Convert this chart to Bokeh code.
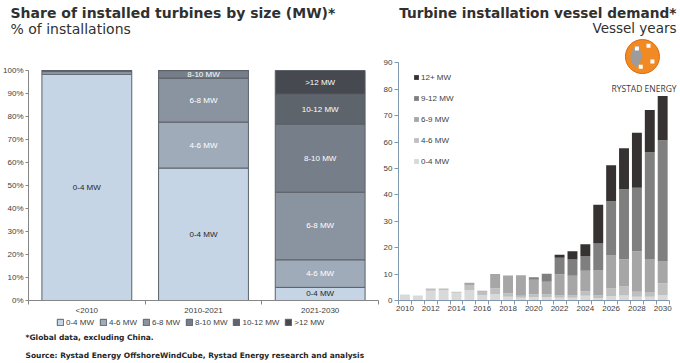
from bokeh.plotting import figure
from bokeh.models import ColumnDataSource, Range1d, FixedTicker, Legend, LegendItem, Label
from bokeh.layouts import column, row
from bokeh.embed import file_html
from bokeh.resources import INLINE
from bokeh.core.properties import value

# ---------------- data: left chart (share of installed turbines, %) ----------------
periods = ["<2010", "2010-2021", "2021-2030"]
share_0_4 = [98.4, 57.6, 5.7]
share_4_6 = [1.1, 20.0, 12.0]
share_6_8 = [0.5, 19.1, 29.4]
share_8_10 = [0.0, 3.3, 29.6]
share_10_12 = [0.0, 0.0, 13.0]
share_12p = [0.0, 0.0, 10.3]
share_names = ["0-4 MW", "4-6 MW", "6-8 MW", "8-10 MW", "10-12 MW", ">12 MW"]
pct_ticks = [0, 10, 20, 30, 40, 50, 60, 70, 80, 90, 100]

# ---------------- data: right chart (vessel years) ----------------
years = list(range(2010, 2031))
vessel_0_4 = [2.3, 1.9, 3.7, 3.9, 2.9, 3.9, 2.1, 2.5, 1.4, 1.0, 1.2, 1.2, 1.0, 1.0, 1.8, 0.9, 1.6, 1.9, 1.4, 1.4, 2.0]
vessel_4_6 = [0.0, 0.0, 0.8, 0.6, 0.4, 2.0, 1.2, 2.1, 1.3, 0.8, 1.2, 1.1, 0.9, 0.9, 1.7, 1.0, 2.9, 3.4, 1.9, 1.8, 4.5]
vessel_6_9 = [0.0, 0.0, 0.0, 0.0, 0.0, 0.8, 0.4, 5.4, 6.8, 7.8, 5.5, 4.8, 8.0, 7.5, 7.8, 9.5, 12.5, 10.3, 15.4, 12.5, 8.3]
vessel_9_12 = [0.0, 0.0, 0.0, 0.0, 0.0, 0.0, 0.0, 0.0, 0.0, 0.0, 0.9, 3.0, 6.3, 6.1, 5.6, 10.2, 20.6, 26.5, 24.0, 40.5, 45.9]
vessel_12p = [0.0, 0.0, 0.0, 0.0, 0.0, 0.0, 0.0, 0.0, 0.0, 0.0, 0.0, 0.0, 1.1, 3.2, 4.4, 14.7, 13.6, 15.6, 20.8, 16.0, 16.8]
vessel_names = ["0-4 MW", "4-6 MW", "6-9 MW", "9-12 MW", "12+ MW"]
vessel_ticks = list(range(0, 100, 10))
year_ticks = list(range(2010, 2031, 2))

FONT = "Liberation Sans"
TFONT = "DejaVu Sans"
TXT = "#404040"
DARK = "#303030"

left_colors = ["#c6d5e5", "#9fabb8", "#8a94a1", "#767e89", "#5e646c", "#46494f"]
left_text_colors = ["#262626", "#ffffff", "#ffffff", "#ffffff", "#ffffff", "#ffffff"]
left_edge = "#5b6068"
right_colors = ["#d9d9d9", "#bfbfbf", "#a6a6a6", "#7f7f7f", "#363232"]

W_LEFT, W_RIGHT = 380, 300
H_HEAD, H_ROW, H_FOOT = 36, 281, 46


def blank(width, height):
    f = figure(width=width, height=height, output_backend="svg", toolbar_location=None,
               x_range=Range1d(0, 1), y_range=Range1d(0, 1),
               x_axis_location=None, y_axis_location=None, min_border=0, title_location=None)
    f.outline_line_color = None
    f.grid.visible = False
    return f


# ================= HEADER (titles) =================
head = blank(W_LEFT + W_RIGHT, H_HEAD)
head.add_layout(Label(x=10, y=H_HEAD - 12, x_units="screen", y_units="screen",
                      text="Share of installed turbines by size (MW)*", text_font=TFONT,
                      text_font_style="bold", text_font_size="14px", text_color=DARK,
                      text_baseline="alphabetic"))
head.add_layout(Label(x=10, y=H_HEAD - 28, x_units="screen", y_units="screen",
                      text="% of installations", text_font=TFONT,
                      text_font_size="14px", text_color=DARK, text_baseline="alphabetic"))
head.add_layout(Label(x=676, y=H_HEAD - 12, x_units="screen", y_units="screen",
                      text="Turbine installation vessel demand*", text_font=TFONT,
                      text_font_style="bold", text_font_size="13.7px", text_color=DARK,
                      text_align="right", text_baseline="alphabetic"))
head.add_layout(Label(x=676, y=H_HEAD - 27, x_units="screen", y_units="screen",
                      text="Vessel years", text_font=TFONT,
                      text_font_size="13.5px", text_color=DARK,
                      text_align="right", text_baseline="alphabetic"))

# ================= LEFT CHART =================
share_arrays = [share_0_4, share_4_6, share_6_8, share_8_10, share_10_12, share_12p]
share_keys = ["s0_4", "s4_6", "s6_8", "s8_10", "s10_12", "s12p"]

xpos = [i + 1 for i in range(len(periods))]
src_l = ColumnDataSource(dict(x=xpos, **{k: a for k, a in zip(share_keys, share_arrays)}))

# frame spans the same height as the right chart (frames are aligned in a row);
# the extra room above 100% is left empty and the axis is bounded at 100%.
left = figure(width=W_LEFT, height=H_ROW, output_backend="svg", toolbar_location=None,
              x_range=Range1d(0.5, len(periods) + 0.5), y_range=Range1d(0, 114.8),
              min_border_left=28, min_border_right=2, min_border_top=0, min_border_bottom=17,
              title_location=None)
left.outline_line_color = None
left.grid.visible = False

rs_l = left.vbar_stack(share_keys, x="x", width=0.77, source=src_l,
                       fill_color=left_colors, line_color=left_edge, line_width=1)

lx, ly, lt, lc = [], [], [], []
for j in range(len(periods)):
    base = 0.0
    for k, arr in enumerate(share_arrays):
        v = arr[j]
        if v >= 3:
            lx.append(xpos[j])
            ly.append(base + v / 2)
            lt.append(share_names[k])
            lc.append(left_text_colors[k])
        base += v
left.text(x=lx, y=ly, text=lt, text_color=lc, text_align="center", text_baseline="middle",
          text_font=value(FONT), text_font_size=value("8px"))

xa = left.xaxis[0]
xa.ticker = FixedTicker(ticks=xpos, minor_ticks=[i + 0.5 for i in range(len(periods) + 1)])
xa.major_label_overrides = {xpos[i]: periods[i] for i in range(len(periods))}
xa.major_tick_line_color = None
xa.major_tick_out = 0
xa.major_tick_in = 0
xa.minor_tick_line_color = "#868686"
xa.minor_tick_out = 4
xa.minor_tick_in = 0
xa.major_label_standoff = 1

ya = left.yaxis[0]
ya.ticker = FixedTicker(ticks=pct_ticks, minor_ticks=[])
ya.bounds = (0, 100)
ya.major_label_overrides = {t: f"{t}%" for t in pct_ticks}
ya.major_tick_line_color = "#868686"
ya.major_tick_out = 3
ya.major_tick_in = 0
ya.minor_tick_line_color = None
ya.major_label_standoff = 2

for ax in left.axis:
    ax.axis_line_color = "#868686"
    ax.major_label_text_font = FONT
    ax.major_label_text_font_size = "8px"
    ax.major_label_text_color = TXT

# ================= RIGHT CHART =================
vessel_arrays = [vessel_0_4, vessel_4_6, vessel_6_9, vessel_9_12, vessel_12p]
vessel_keys = ["v0_4", "v4_6", "v6_9", "v9_12", "v12p"]
src_r = ColumnDataSource(dict(year=years, **{k: a for k, a in zip(vessel_keys, vessel_arrays)}))

right = figure(width=W_RIGHT, height=H_ROW, output_backend="svg", toolbar_location=None,
               x_range=Range1d(years[0] - 0.5, years[-1] + 1.15), y_range=Range1d(0, 100),
               min_border_left=15, min_border_right=3, min_border_top=0, min_border_bottom=17,
               title_location=None)
right.outline_line_color = None
right.grid.visible = False

rs_r = right.vbar_stack(vessel_keys, x="year", width=0.77, source=src_r,
                        fill_color=right_colors, line_color=None)

AX = "#7f98b0"
rxa = right.xaxis[0]
rxa.ticker = FixedTicker(ticks=year_ticks, minor_ticks=[y - 0.5 for y in years] + [years[-1] + 0.5])
rxa.bounds = (years[0] - 0.5, years[-1] + 0.5)
rxa.major_tick_line_color = None
rxa.major_tick_out = 0
rxa.major_tick_in = 0
rxa.minor_tick_line_color = AX
rxa.minor_tick_out = 4
rxa.minor_tick_in = 0
rxa.major_label_standoff = 1

rya = right.yaxis[0]
rya.ticker = FixedTicker(ticks=vessel_ticks, minor_ticks=[])
rya.bounds = (0, 90)
rya.major_tick_line_color = AX
rya.major_tick_out = 4
rya.major_tick_in = 0
rya.minor_tick_line_color = None
rya.major_label_standoff = 2

for ax in right.axis:
    ax.axis_line_color = AX
    ax.major_label_text_font = FONT
    ax.major_label_text_font_size = "8px"
    ax.major_label_text_color = TXT

leg_r = Legend(items=[LegendItem(label=n, renderers=[r]) for n, r in
                      reversed(list(zip(vessel_names, rs_r)))],
               orientation="vertical", location=(15, 129),
               glyph_width=6, glyph_height=6, label_height=20, spacing=1, label_standoff=2,
               padding=0, margin=0, border_line_color=None, background_fill_alpha=0,
               label_text_font=FONT, label_text_font_size="8px", label_text_color=TXT)
right.add_layout(leg_r)

# logo (decoration)
logo_x = [2028.43]
logo_y = [92.4]
right.scatter(x=logo_x, y=logo_y, size=34, marker="circle", fill_color="#f28a24",
              line_color="#d86a12", line_width=1)
right.wedge(x=logo_x, y=logo_y, radius=12, radius_units="screen", start_angle=1.9, end_angle=4.3,
            fill_color="#9c9c9c", line_color=None)
right.scatter(x=[2028.0, 2028.9, 2028.3, 2029.2], y=[95.5, 96.5, 88.5, 90.5], marker="square", size=4,
              fill_color="white", line_color=None)
right.add_layout(Label(x=2031.08, y=80.3, text="RYSTAD ENERGY", text_font="Open Sans",
                       text_font_size="8.5px", text_align="right", text_baseline="middle",
                       text_color="#3a3a3a"))

# ================= FOOTER (legend of left chart + notes) =================
foot = blank(W_LEFT + W_RIGHT, H_FOOT)
dummy = [foot.vbar(x=[-1], top=[0], width=0.5, fill_color=c, line_color=left_edge, line_width=1)
         for c in left_colors]
leg_l = Legend(items=[LegendItem(label=n, renderers=[r]) for n, r in zip(share_names, dummy)],
               orientation="horizontal", location=(56, 36),
               glyph_width=8, glyph_height=8, label_height=10, label_standoff=2, spacing=5,
               padding=0, margin=0, border_line_color=None, background_fill_alpha=0,
               label_text_font=FONT, label_text_font_size="8px", label_text_color=TXT)
foot.add_layout(leg_l)
foot.add_layout(Label(x=25, y=26, x_units="screen", y_units="screen",
                      text="*Global data, excluding China.", text_font=TFONT, text_font_style="bold",
                      text_font_size="7.5px", text_color="#262626", text_baseline="middle"))
foot.add_layout(Label(x=25, y=8, x_units="screen", y_units="screen",
                      text="Source: Rystad Energy OffshoreWindCube, Rystad Energy research and analysis",
                      text_font=TFONT, text_font_style="bold",
                      text_font_size="7.5px", text_color="#262626", text_baseline="middle"))

layout = column(head, row(left, right), foot)
open("out.html", "w").write(file_html(layout, INLINE))
